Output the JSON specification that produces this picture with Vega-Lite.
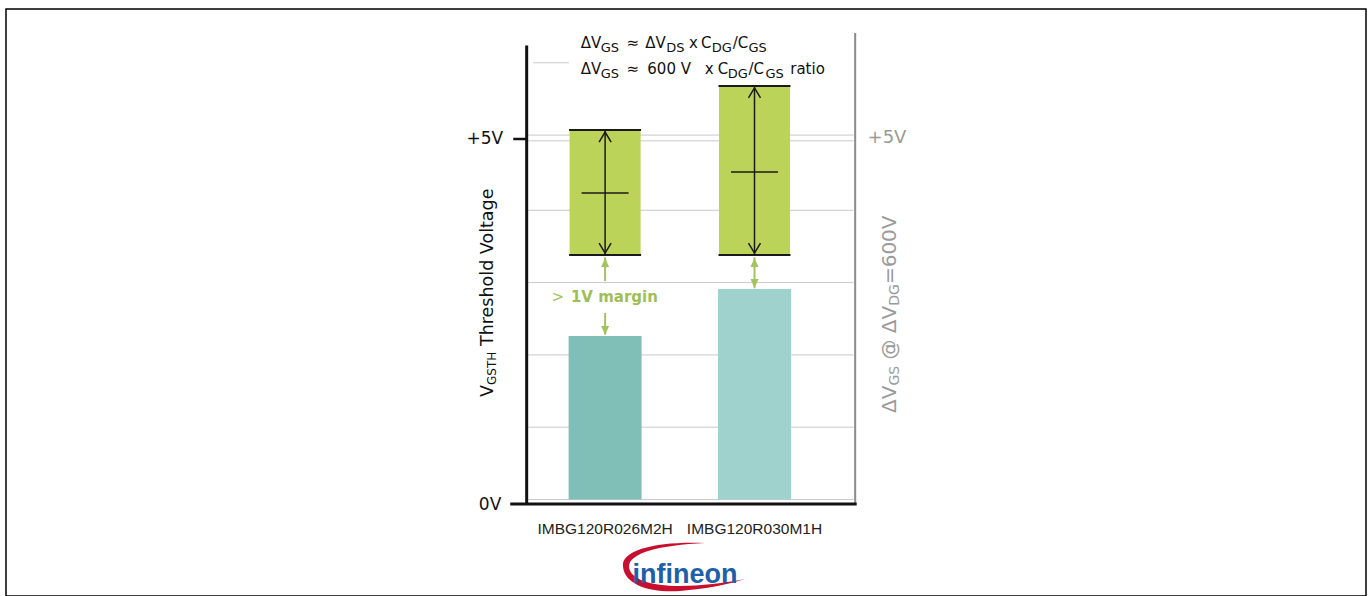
{
  "$schema": "https://vega.github.io/schema/vega-lite/v6.json",
  "width": 1371,
  "height": 596,
  "autosize": {"type": "fit", "contains": "padding"},
  "padding": {"left": 6, "top": 9, "right": 5, "bottom": 0},
  "background": "white",
  "config": {"view": {"stroke": "black", "strokeWidth": 1.5}},
  "datasets": {
    "products": [
      {"product": "IMBG120R026M2H", "pos": 1, "vgsth": 2.26},
      {"product": "IMBG120R030M1H", "pos": 2, "vgsth": 2.91}
    ],
    "windows": [
      {"product": "IMBG120R026M2H", "pos": 1, "lo": 3.38, "hi": 5.11, "mid": 4.24},
      {"product": "IMBG120R030M1H", "pos": 2, "lo": 3.38, "hi": 5.72, "mid": 4.53}
    ],
    "grid": [{"v": 0}, {"v": 1}, {"v": 2}, {"v": 3}, {"v": 4}, {"v": 4.96}, {"v": 5.04}],
    "grid_top": [{"v": 6.04}],
    "margin_lines": [
      {"pos": 1, "v": 3.35, "v2": 3.02},
      {"pos": 1, "v": 2.58, "v2": 2.28},
      {"pos": 2, "v": 3.35, "v2": 2.92}
    ],
    "formula_main": [
      {"t": "ΔV", "pos": 0.8372, "v": 6.245},
      {"t": "≈", "pos": 1.1429, "v": 6.245},
      {"t": "ΔV", "pos": 1.2691, "v": 6.245},
      {"t": "x", "pos": 1.5615, "v": 6.245},
      {"t": "C", "pos": 1.6412, "v": 6.245},
      {"t": "/C", "pos": 1.8539, "v": 6.245},
      {"t": "ΔV", "pos": 0.8372, "v": 5.886},
      {"t": "≈", "pos": 1.1429, "v": 5.886},
      {"t": "600 V", "pos": 1.2824, "v": 5.886},
      {"t": "x", "pos": 1.6678, "v": 5.886},
      {"t": "C", "pos": 1.7542, "v": 5.886},
      {"t": "/C", "pos": 1.9601, "v": 5.886},
      {"t": "ratio", "pos": 2.2392, "v": 5.886}
    ],
    "formula_sub": [
      {"t": "GS", "pos": 0.9701, "v": 6.19},
      {"t": "DS", "pos": 1.4086, "v": 6.19},
      {"t": "DG", "pos": 1.7143, "v": 6.19},
      {"t": "GS", "pos": 1.9601, "v": 6.19},
      {"t": "GS", "pos": 0.9701, "v": 5.83},
      {"t": "DG", "pos": 1.8206, "v": 5.83},
      {"t": "GS", "pos": 2.0731, "v": 5.83}
    ],
    "left_title_main": [
      {"t": "V", "pos": 0.2525, "v": 1.418},
      {"t": "Threshold Voltage", "pos": 0.2525, "v": 2.123}
    ],
    "left_title_sub": [{"t": "GSTH", "pos": 0.2724, "v": 1.584}],
    "right_title_main": [
      {"t": "ΔV", "pos": 2.95, "v": 1.196},
      {"t": "@ ΔV", "pos": 2.95, "v": 1.936},
      {"t": "=600V", "pos": 2.95, "v": 2.979}
    ],
    "right_title_sub": [
      {"t": "GS", "pos": 2.97, "v": 1.575},
      {"t": "DG", "pos": 2.97, "v": 2.68}
    ],
    "one": [{"item": "annotation"}]
  },
  "layer": [
    {
      "data": {"name": "grid"},
      "mark": {"type": "rule", "color": "#c9c9c9", "strokeWidth": 1},
      "encoding": {
        "x": {"datum": 0.485, "type": "quantitative", "scale": {"domain": [-2.977, 6.06], "nice": false, "zero": false}, "axis": null},
        "x2": {"datum": 2.664},
        "y": {"field": "v", "type": "quantitative", "scale": {"domain": [-1.335, 6.784], "nice": false, "zero": false}, "axis": null}
      }
    },
    {
      "data": {"name": "grid_top"},
      "mark": {"type": "rule", "color": "#c9c9c9", "strokeWidth": 1},
      "encoding": {
        "x": {"datum": 0.518, "type": "quantitative"},
        "x2": {"datum": 0.757},
        "y": {"field": "v", "type": "quantitative"}
      }
    },
    {
      "data": {"name": "products"},
      "mark": {"type": "bar", "size": 73},
      "encoding": {
        "x": {"field": "pos", "type": "quantitative"},
        "y": {"field": "vgsth", "type": "quantitative"},
        "y2": {"datum": 0},
        "color": {"field": "product", "type": "nominal", "scale": {"range": ["#80bfb7", "#9fd2cd"]}, "legend": null}
      }
    },
    {
      "data": {"name": "windows"},
      "mark": {"type": "bar", "size": 71, "color": "#bcd35a"},
      "encoding": {
        "x": {"field": "pos", "type": "quantitative"},
        "y": {"field": "lo", "type": "quantitative"},
        "y2": {"field": "hi"}
      }
    },
    {
      "data": {"name": "windows"},
      "mark": {"type": "tick", "orient": "horizontal", "size": 72, "thickness": 2, "color": "#1a1a1a", "opacity": 1},
      "encoding": {
        "x": {"field": "pos", "type": "quantitative"},
        "y": {"field": "hi", "type": "quantitative"}
      }
    },
    {
      "data": {"name": "windows"},
      "mark": {"type": "tick", "orient": "horizontal", "size": 72, "thickness": 2, "color": "#1a1a1a", "opacity": 1},
      "encoding": {
        "x": {"field": "pos", "type": "quantitative"},
        "y": {"field": "lo", "type": "quantitative"}
      }
    },
    {
      "data": {"name": "windows"},
      "mark": {"type": "tick", "orient": "horizontal", "size": 47, "thickness": 1.5, "color": "#1a1a1a", "opacity": 1},
      "encoding": {
        "x": {"field": "pos", "type": "quantitative"},
        "y": {"field": "mid", "type": "quantitative"}
      }
    },
    {
      "data": {"name": "windows"},
      "mark": {"type": "rule", "color": "#1a1a1a", "strokeWidth": 1.5},
      "encoding": {
        "x": {"field": "pos", "type": "quantitative"},
        "y": {"field": "lo", "type": "quantitative"},
        "y2": {"field": "hi"}
      }
    },
    {
      "data": {"name": "windows"},
      "mark": {"type": "point", "shape": "M -6 10 L 0 0 L 6 10", "size": 4, "filled": false, "color": "#1a1a1a", "strokeWidth": 1.5, "opacity": 1, "yOffset": 2},
      "encoding": {
        "x": {"field": "pos", "type": "quantitative"},
        "y": {"field": "hi", "type": "quantitative"}
      }
    },
    {
      "data": {"name": "windows"},
      "mark": {"type": "point", "shape": "M -6 -10 L 0 0 L 6 -10", "size": 4, "filled": false, "color": "#1a1a1a", "strokeWidth": 1.5, "opacity": 1, "yOffset": -2},
      "encoding": {
        "x": {"field": "pos", "type": "quantitative"},
        "y": {"field": "lo", "type": "quantitative"}
      }
    },
    {
      "data": {"name": "margin_lines"},
      "mark": {"type": "rule", "color": "#a3c35c", "strokeWidth": 2},
      "encoding": {
        "x": {"field": "pos", "type": "quantitative"},
        "y": {"field": "v", "type": "quantitative"},
        "y2": {"field": "v2"}
      }
    },
    {
      "data": {"name": "windows"},
      "mark": {"type": "point", "shape": "M 0 0 L 4 9 L -4 9 Z", "size": 4, "filled": true, "color": "#a3c35c", "opacity": 1, "yOffset": 3},
      "encoding": {
        "x": {"field": "pos", "type": "quantitative"},
        "y": {"field": "lo", "type": "quantitative"}
      }
    },
    {
      "data": {"name": "products"},
      "mark": {"type": "point", "shape": "M 0 0 L 4 -9 L -4 -9 Z", "size": 4, "filled": true, "color": "#a3c35c", "opacity": 1, "yOffset": -1},
      "encoding": {
        "x": {"field": "pos", "type": "quantitative"},
        "y": {"field": "vgsth", "type": "quantitative"}
      }
    },
    {
      "data": {"name": "one"},
      "mark": {"type": "text", "text": ">", "font": "DejaVu Sans", "fontSize": 15, "color": "#a3c35c", "align": "center", "baseline": "middle"},
      "encoding": {"x": {"datum": 0.684, "type": "quantitative"}, "y": {"datum": 2.801, "type": "quantitative"}}
    },
    {
      "data": {"name": "one"},
      "mark": {"type": "text", "text": "1V margin", "font": "DejaVu Sans", "fontSize": 15, "fontWeight": "bold", "color": "#9fbe55", "align": "left", "baseline": "middle"},
      "encoding": {"x": {"datum": 0.771, "type": "quantitative"}, "y": {"datum": 2.801, "type": "quantitative"}}
    },
    {
      "data": {"name": "one"},
      "mark": {"type": "rule", "color": "#8f8a86", "strokeWidth": 2},
      "encoding": {"x": {"datum": 2.674, "type": "quantitative"}, "y": {"datum": -0.076, "type": "quantitative"}, "y2": {"datum": 6.452}}
    },
    {
      "data": {"name": "one"},
      "mark": {"type": "rule", "color": "#111111", "strokeWidth": 3},
      "encoding": {"x": {"datum": 0.475, "type": "quantitative"}, "y": {"datum": -0.076, "type": "quantitative"}, "y2": {"datum": 6.28}}
    },
    {
      "data": {"name": "one"},
      "mark": {"type": "rule", "color": "#111111", "strokeWidth": 3},
      "encoding": {"x": {"datum": 0.365, "type": "quantitative"}, "x2": {"datum": 2.684}, "y": {"datum": -0.062, "type": "quantitative"}}
    },
    {
      "data": {"name": "one"},
      "mark": {"type": "rule", "color": "#111111", "strokeWidth": 2.5},
      "encoding": {"x": {"datum": 0.385, "type": "quantitative"}, "x2": {"datum": 0.475}, "y": {"datum": 4.986, "type": "quantitative"}}
    },
    {
      "data": {"name": "one"},
      "mark": {"type": "text", "text": "+5V", "font": "DejaVu Sans", "fontSize": 17, "color": "#111111", "align": "right", "baseline": "middle"},
      "encoding": {"x": {"datum": 0.318, "type": "quantitative"}, "y": {"datum": 4.99, "type": "quantitative"}}
    },
    {
      "data": {"name": "one"},
      "mark": {"type": "text", "text": "0V", "font": "DejaVu Sans", "fontSize": 17, "color": "#111111", "align": "right", "baseline": "middle"},
      "encoding": {"x": {"datum": 0.305, "type": "quantitative"}, "y": {"datum": -0.076, "type": "quantitative"}}
    },
    {
      "data": {"name": "one"},
      "mark": {"type": "text", "text": "+5V", "font": "DejaVu Sans", "fontSize": 18, "color": "#9a9a9a", "align": "left", "baseline": "middle"},
      "encoding": {"x": {"datum": 2.757, "type": "quantitative"}, "y": {"datum": 5.0, "type": "quantitative"}}
    },
    {
      "data": {"name": "formula_main"},
      "mark": {"type": "text", "font": "DejaVu Sans", "fontSize": 15, "color": "#111111", "align": "left", "baseline": "alphabetic"},
      "encoding": {
        "x": {"field": "pos", "type": "quantitative"},
        "y": {"field": "v", "type": "quantitative"},
        "text": {"field": "t"}
      }
    },
    {
      "data": {"name": "formula_sub"},
      "mark": {"type": "text", "font": "DejaVu Sans", "fontSize": 13, "color": "#111111", "align": "left", "baseline": "alphabetic"},
      "encoding": {
        "x": {"field": "pos", "type": "quantitative"},
        "y": {"field": "v", "type": "quantitative"},
        "text": {"field": "t"}
      }
    },
    {
      "data": {"name": "left_title_main"},
      "mark": {"type": "text", "font": "DejaVu Sans", "fontSize": 17.5, "color": "#111111", "align": "left", "baseline": "alphabetic", "angle": 270},
      "encoding": {
        "x": {"field": "pos", "type": "quantitative"},
        "y": {"field": "v", "type": "quantitative"},
        "text": {"field": "t"}
      }
    },
    {
      "data": {"name": "left_title_sub"},
      "mark": {"type": "text", "font": "DejaVu Sans", "fontSize": 12, "color": "#111111", "align": "left", "baseline": "alphabetic", "angle": 270},
      "encoding": {
        "x": {"field": "pos", "type": "quantitative"},
        "y": {"field": "v", "type": "quantitative"},
        "text": {"field": "t"}
      }
    },
    {
      "data": {"name": "right_title_main"},
      "mark": {"type": "text", "font": "DejaVu Sans", "fontSize": 20, "color": "#9a9a9a", "align": "left", "baseline": "alphabetic", "angle": 270},
      "encoding": {
        "x": {"field": "pos", "type": "quantitative"},
        "y": {"field": "v", "type": "quantitative"},
        "text": {"field": "t"}
      }
    },
    {
      "data": {"name": "right_title_sub"},
      "mark": {"type": "text", "font": "DejaVu Sans", "fontSize": 14, "color": "#9a9a9a", "align": "left", "baseline": "alphabetic", "angle": 270},
      "encoding": {
        "x": {"field": "pos", "type": "quantitative"},
        "y": {"field": "v", "type": "quantitative"},
        "text": {"field": "t"}
      }
    },
    {
      "data": {"name": "products"},
      "mark": {"type": "text", "font": "Liberation Sans", "fontSize": 15.5, "color": "#222222", "align": "center", "baseline": "middle"},
      "encoding": {
        "x": {"field": "pos", "type": "quantitative"},
        "y": {"datum": -0.408, "type": "quantitative"},
        "text": {"field": "product"}
      }
    },
    {
      "data": {"name": "one"},
      "mark": {"type": "point", "shape": "M 25 -24 C -20 -26 -60 -18 -57 0 C -55 18 -30 26 0 24 C 25 22 50 17 65 12 C 45 16 20 19 0 19 C -30 19 -50 12 -51 0 C -52 -14 -20 -22 25 -24 Z", "size": 4, "filled": true, "color": "#c8102e", "opacity": 1},
      "encoding": {"x": {"datum": 1.5016, "type": "quantitative"}, "y": {"datum": -0.934, "type": "quantitative"}}
    },
    {
      "data": {"name": "one"},
      "mark": {"type": "text", "text": "infineon", "font": "Liberation Sans", "fontSize": 27, "fontWeight": "bold", "color": "#1d5fa8", "align": "center", "baseline": "alphabetic"},
      "encoding": {"x": {"datum": 1.535, "type": "quantitative"}, "y": {"datum": -1.155, "type": "quantitative"}}
    }
  ]
}
